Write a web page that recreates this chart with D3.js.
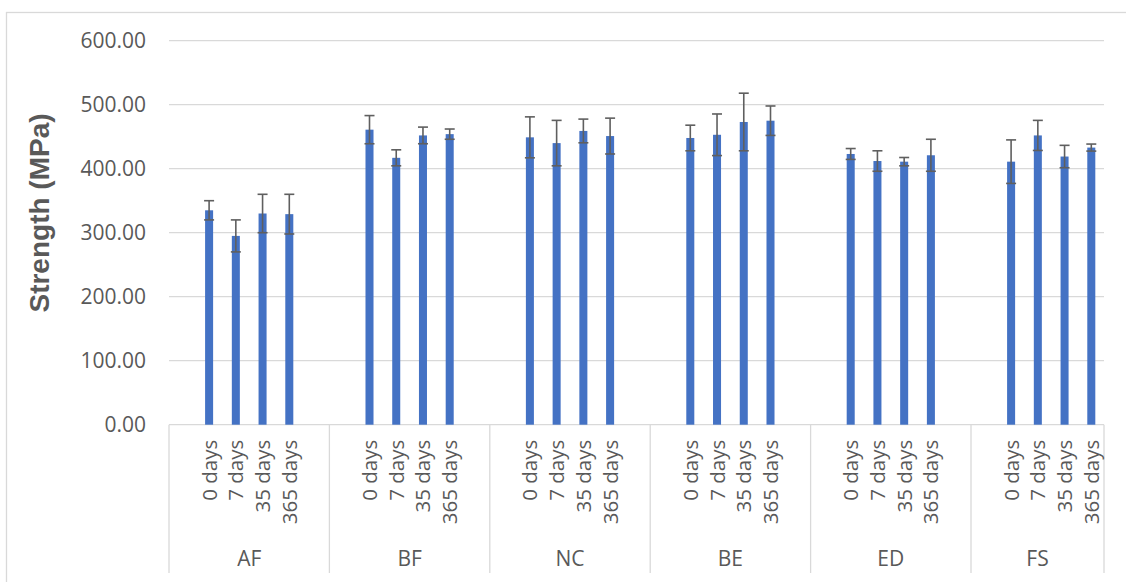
<!DOCTYPE html>
<html>
<head>
<meta charset="utf-8">
<script src="https://cdn.jsdelivr.net/npm/d3@7"></script>
<style>
  html, body { margin: 0; padding: 0; background: #ffffff; }
  svg { display: block; }
  text { font-family: "Open Sans", "Liberation Sans", sans-serif; fill: #595959; }
  text.ytitle { font-family: "Liberation Sans", Arial, sans-serif; font-weight: bold; }
</style>
</head>
<body>
<svg id="chart" width="1126" height="582"></svg>
<script>
// Materials (outer categories) and exposure ages (inner categories)
const materials = ["AF", "BF", "NC", "BE", "ED", "FS"];
const ages = ["0 days", "7 days", "35 days", "365 days"];

// Mean strength (MPa) per age, one array per material
const strengthAF = [335, 295, 330, 329];
const strengthBF = [461, 417, 452, 454];
const strengthNC = [449, 440, 459, 451];
const strengthBE = [448, 453, 473, 475];
const strengthED = [423, 412, 411, 421];
const strengthFS = [411, 452, 419, 433];

// Standard deviation (MPa) per age, one array per material
const errorAF = [15, 25, 30, 31];
const errorBF = [22, 12.5, 13, 8];
const errorNC = [32, 35.5, 18.5, 28];
const errorBE = [20, 32.5, 45, 23];
const errorED = [8.5, 16, 6.5, 25];
const errorFS = [34, 23.5, 17.5, 5.5];

// Y axis ticks
const yTicks = [0, 100, 200, 300, 400, 500, 600];

const means = [strengthAF, strengthBF, strengthNC, strengthBE, strengthED, strengthFS];
const errors = [errorAF, errorBF, errorNC, errorBE, errorED, errorFS];

const rows = [];
materials.forEach((m, i) => {
  ages.forEach((a, j) => {
    rows.push({ material: m, age: a, value: means[i][j], err: errors[i][j] });
  });
});

const svg = d3.select("#chart");

// Layout
const plotLeft = 169, plotRight = 1104, plotTop = 40.7, plotBottom = 424.7;
const groupWidth = 160.4;
const axisBottom = 573;
const gridColor = "#d9d9d9";

// Outer chart frame
svg.append("rect")
  .attr("x", 6.5).attr("y", 12.5)
  .attr("width", 1140).attr("height", 600)
  .attr("fill", "none").attr("stroke", gridColor).attr("stroke-width", 1.3);

const y = d3.scaleLinear().domain([0, 600]).range([plotBottom, plotTop]);

const x0 = d3.scaleBand()
  .domain(materials)
  .range([plotLeft, plotLeft + groupWidth * materials.length])
  .paddingInner(0).paddingOuter(0);

const x1 = d3.scaleBand()
  .domain(ages)
  .range([0, x0.bandwidth()])
  .paddingInner(0.7)
  .paddingOuter(1.35);

// Horizontal gridlines
svg.append("g").selectAll("line")
  .data(yTicks.filter(t => t > 0))
  .join("line")
  .attr("x1", plotLeft).attr("x2", plotRight)
  .attr("y1", d => y(d)).attr("y2", d => y(d))
  .attr("stroke", gridColor).attr("stroke-width", 1.3);

// Y axis labels
const yAxis = d3.axisLeft(y).tickValues(yTicks).tickFormat(d3.format(".2f")).tickSize(0).tickPadding(0);
const yg = svg.append("g").attr("transform", `translate(${plotLeft - 23},0)`).call(yAxis);
yg.select(".domain").remove();
yg.selectAll("text")
  .attr("font-size", 21)
  .attr("font-family", "'Open Sans', sans-serif")
  .attr("fill", "#595959");

// Y axis title
svg.append("text")
  .attr("class", "ytitle")
  .attr("transform", `translate(49, 213) rotate(-90)`)
  .attr("text-anchor", "middle")
  .attr("font-size", 28)
  .text("Strength (MPa)");

// Category axis baseline
svg.append("line")
  .attr("x1", plotLeft).attr("x2", plotRight)
  .attr("y1", plotBottom).attr("y2", plotBottom)
  .attr("stroke", gridColor).attr("stroke-width", 1.3);

// Group separators
const sepX = materials.map(m => x0(m)).concat([plotRight]);
svg.append("g").selectAll("line")
  .data(sepX)
  .join("line")
  .attr("x1", d => d).attr("x2", d => d)
  .attr("y1", plotBottom).attr("y2", axisBottom)
  .attr("stroke", gridColor).attr("stroke-width", 1.3);

// Bars
const barX = d => x0(d.material) + x1(d.age);
svg.append("g").selectAll("rect")
  .data(rows)
  .join("rect")
  .attr("x", barX)
  .attr("width", x1.bandwidth())
  .attr("y", d => y(d.value))
  .attr("height", d => y(0) - y(d.value))
  .attr("fill", "#4472c4");

// Error bars
const capHalf = 5;
const eb = svg.append("g").attr("stroke", "#5f5f5f").attr("stroke-width", 1.6);
rows.forEach(d => {
  const cx = barX(d) + x1.bandwidth() / 2;
  const yHi = y(d.value + d.err), yLo = y(d.value - d.err);
  eb.append("line").attr("x1", cx).attr("x2", cx).attr("y1", yHi).attr("y2", yLo);
  eb.append("line").attr("x1", cx - capHalf).attr("x2", cx + capHalf).attr("y1", yHi).attr("y2", yHi);
  eb.append("line").attr("x1", cx - capHalf).attr("x2", cx + capHalf).attr("y1", yLo).attr("y2", yLo);
});

// Age labels (rotated)
svg.append("g").selectAll("text")
  .data(rows)
  .join("text")
  .attr("transform", d => `translate(${barX(d) + x1.bandwidth() / 2 + 7.5}, ${plotBottom + 15}) rotate(-90)`)
  .attr("text-anchor", "end")
  .attr("font-size", 20.5)
  .text(d => d.age);

// Material labels, centred between the visible separators
svg.append("g").selectAll("text")
  .data(materials)
  .join("text")
  .attr("x", (d, i) => (sepX[i] + sepX[i + 1]) / 2)
  .attr("y", 566)
  .attr("text-anchor", "middle")
  .attr("font-size", 21)
  .text(d => d);
</script>
</body>
</html>
